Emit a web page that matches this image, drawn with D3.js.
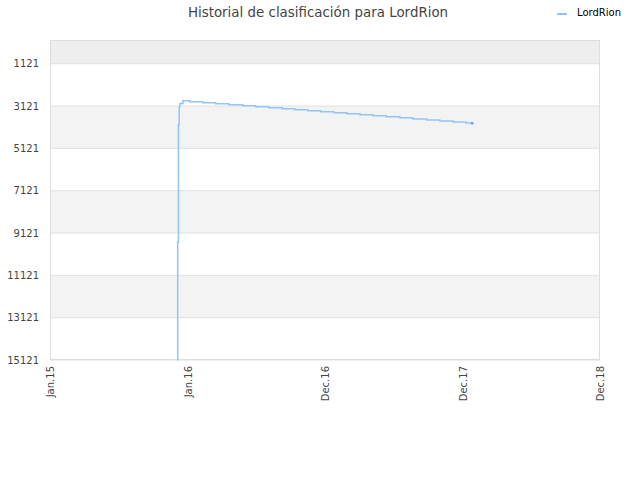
<!DOCTYPE html>
<html>
<head>
<meta charset="utf-8">
<script src="https://cdn.jsdelivr.net/npm/d3@7"></script>
<style>
  body { margin: 0; background: #fff; }
  text { font-family: "DejaVu Sans", sans-serif; }
</style>
</head>
<body>
<script>
// ranking history
const dates = [
  '2015-12-05', '2015-12-06', '2015-12-08', '2015-12-10', '2015-12-12', '2015-12-20',
  '2016-01-07', '2016-02-11', '2016-03-16', '2016-04-20', '2016-05-27', '2016-06-30',
  '2016-08-04', '2016-09-08', '2016-10-12', '2016-11-16', '2016-12-20', '2017-01-24',
  '2017-02-27', '2017-04-03', '2017-05-07', '2017-06-11', '2017-07-18', '2017-08-21',
  '2017-09-27', '2017-11-01', '2017-12-06', '2018-01-09', '2018-01-25'
]
const ranks = [
  15121, 9560, 4000, 3150, 3000, 2868,
  2915, 2962, 3010, 3057, 3104, 3151,
  3199, 3246, 3293, 3340, 3388, 3435,
  3482, 3529, 3577, 3624, 3671, 3733,
  3780, 3827, 3875, 3922, 3922
]
const yTicks = [1121, 3121, 5121, 7121, 9121, 11121, 13121, 15121]
const xTickDates = ['2015-01-01', '2016-01-01', '2016-12-31', '2017-12-31', '2018-12-31']
const seriesName = 'LordRion'
const title = 'Historial de clasificación para LordRion'

const w = 640
const h = 480
const padLeft = 50, padRight = 600, padTop = 40, padBottom = 360
const parse = d3.timeParse('%Y-%m-%d')

const data = dates.map((d, i) => ({ date: parse(d), rank: ranks[i] }))

const svg = d3.select('body')
  .append('svg')
  .attr('width', w)
  .attr('height', h)

const xScale = d3.scaleTime()
  .domain([parse(xTickDates[0]), parse(xTickDates[xTickDates.length - 1])])
  .range([padLeft, padRight])

const yScale = d3.scaleLinear()
  .domain([0, 15121])
  .range([padTop, padBottom])

// bands
svg.append('rect')
  .attr('x', padLeft).attr('y', padTop)
  .attr('width', padRight - padLeft)
  .attr('height', yScale(yTicks[0]) - padTop)
  .attr('fill', '#eeeeee')

for (let i = 1; i < yTicks.length - 1; i += 2) {
  svg.append('rect')
    .attr('x', padLeft).attr('y', yScale(yTicks[i]))
    .attr('width', padRight - padLeft)
    .attr('height', yScale(yTicks[i + 1]) - yScale(yTicks[i]))
    .attr('fill', '#f3f3f3')
}

// grid
svg.selectAll('.grid')
  .data(yTicks)
  .enter()
  .append('line')
  .attr('x1', padLeft).attr('x2', padRight)
  .attr('y1', d => yScale(d)).attr('y2', d => yScale(d))
  .attr('stroke', '#e0e0e0')

svg.append('rect')
  .attr('x', padLeft + 0.5).attr('y', padTop + 0.5)
  .attr('width', padRight - padLeft - 1)
  .attr('height', padBottom - padTop - 1)
  .attr('fill', 'none')
  .attr('stroke', '#dddddd')

// y axis
const yAxis = d3.axisLeft(yScale).tickValues(yTicks).tickFormat(d3.format('d')).tickSize(0).tickPadding(11)
const gy = svg.append('g').attr('transform', `translate(${padLeft},0)`).call(yAxis)
gy.select('.domain').remove()
gy.selectAll('text').attr('fill', '#444').style('font-size', '10px')

// x axis
const xAxis = d3.axisBottom(xScale)
  .tickValues(xTickDates.map(parse))
  .tickFormat(d3.timeFormat('%b.%y'))
  .tickSize(0)
const gx = svg.append('g').attr('transform', `translate(0,${padBottom})`).call(xAxis)
gx.select('.domain').remove()
gx.selectAll('text')
  .attr('fill', '#444')
  .style('font-size', '10px')
  .attr('text-anchor', 'end')
  .attr('transform', 'rotate(-90)')
  .attr('x', -6)
  .attr('y', 0)
  .attr('dy', '0.35em')

// line
const line = d3.line()
  .x(d => xScale(d.date))
  .y(d => yScale(d.rank))
  .curve(d3.curveStepAfter)

svg.append('path')
  .datum(data)
  .attr('d', line)
  .attr('fill', 'none')
  .attr('stroke', '#92c5f7')
  .attr('stroke-width', 1.5)

const last = data[data.length - 1]
svg.append('rect')
  .attr('x', xScale(last.date) - 1)
  .attr('y', yScale(last.rank) - 1)
  .attr('width', 2.5).attr('height', 2.5)
  .attr('fill', '#5ea8f2')

// title
svg.append('text')
  .attr('x', 318).attr('y', 17)
  .attr('text-anchor', 'middle')
  .attr('fill', '#444')
  .style('font-size', '13.4px')
  .text(title)

// legend
svg.append('line')
  .attr('x1', 557).attr('x2', 567)
  .attr('y1', 14).attr('y2', 14)
  .attr('stroke', '#92c5f7')
  .attr('stroke-width', 2)
svg.append('text')
  .attr('x', 577).attr('y', 16)
  .attr('fill', '#000')
  .style('font-size', '10px')
  .text(seriesName)
</script>
</body>
</html>
